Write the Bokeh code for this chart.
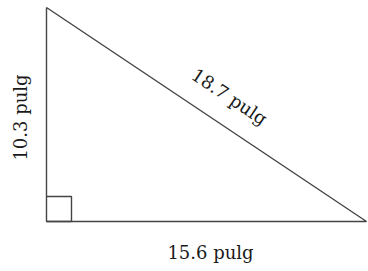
import math
from bokeh.plotting import figure
from bokeh.models import Range1d
from bokeh.core.properties import value
from bokeh.embed import file_html
from bokeh.resources import INLINE

# Data: side lengths (pulg) and labels
leg_base = 15.6
leg_height = 10.3
hypotenuse = 18.7
labels = ["10.3 pulg", "18.7 pulg", "15.6 pulg"]

W, H = 368, 271
# pixel placement of the triangle in the picture
px_left, px_right = 46, 366
py_bottom, py_top = 221, 7
sx = (px_right - px_left) / leg_base
sy = (py_bottom - py_top) / leg_height

p = figure(width=W, height=H, output_backend="svg", toolbar_location=None,
           x_range=Range1d(-px_left / sx, (W - px_left) / sx),
           y_range=Range1d(-(H - py_bottom) / sy, py_bottom / sy),
           min_border=0, outline_line_color=None)
p.axis.visible = False
p.grid.visible = False
p.background_fill_color = "white"
p.border_fill_color = "white"

line_color = "#444444"
xs = [0, 0, leg_base, 0]
ys = [leg_height, 0, 0, leg_height]
p.line(xs, ys, line_color=line_color, line_width=1.4)

# right-angle marker (25 px square)
sq_x = 25 / sx
sq_y = 25 / sy
p.line([0, sq_x, sq_x, 0], [sq_y, sq_y, 0, 0], line_color=line_color, line_width=1.4)

font = value("DejaVu Serif")
tc = "#1a1a1a"
fs = "18px"

# left leg label
p.text(x=[0], y=[leg_height / 2], text=[labels[0]], angle=math.pi / 2,
       x_offset=-26, y_offset=3, text_align="center", text_baseline="middle",
       text_font=font, text_font_size=fs, text_color=tc)

# hypotenuse label
ang = -math.atan2(leg_height * sy, leg_base * sx)
p.text(x=[leg_base / 2], y=[leg_height / 2], text=[labels[1]], angle=ang,
       x_offset=23, y_offset=-18, text_align="center", text_baseline="middle",
       text_font=font, text_font_size=fs, text_color=tc)

# base label
p.text(x=[leg_base / 2], y=[0], text=[labels[2]], angle=0,
       x_offset=4, y_offset=31, text_align="center", text_baseline="middle",
       text_font=font, text_font_size=fs, text_color=tc)

html = file_html(p, INLINE)
html = html.replace("<head>", "<head><style>html,body{margin:0!important;padding:0;overflow:hidden}</style>", 1)
open("out.html", "w").write(html)
